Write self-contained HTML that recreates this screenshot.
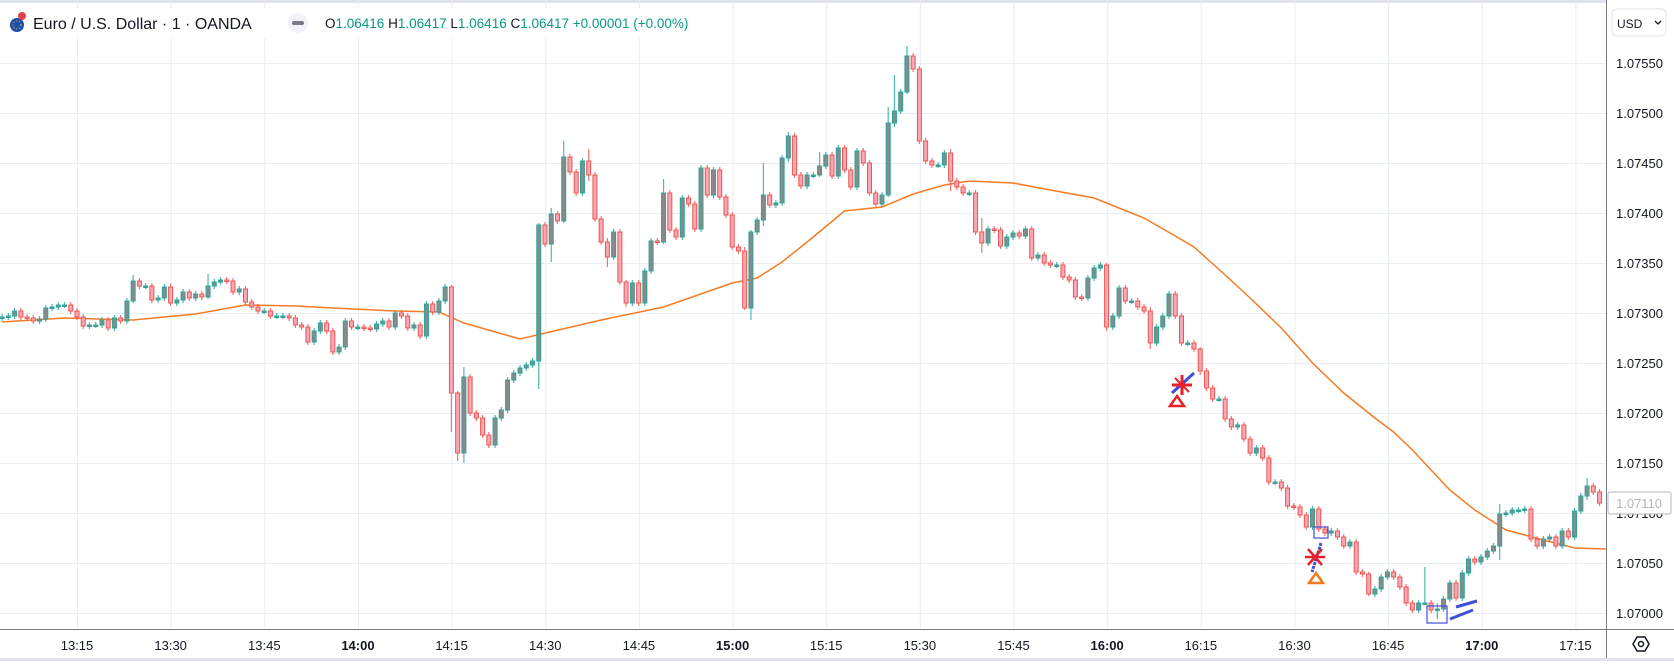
<!DOCTYPE html>
<html><head><meta charset="utf-8"><style>
html,body{margin:0;padding:0;background:#fff;}
body{width:1674px;height:661px;overflow:hidden;font-family:"Liberation Sans",sans-serif;}
svg text{font-family:"Liberation Sans",sans-serif;}
</style></head><body>
<svg id="chart" width="1674" height="661" viewBox="0 0 1674 661" xmlns="http://www.w3.org/2000/svg">
<rect x="0" y="0" width="1674" height="661" fill="#ffffff"/>
<rect x="0" y="0" width="1674" height="3" fill="#e0e3eb"/>
<g id="grid"></g>
<g id="ma"></g>
<g id="candles"></g>
<g id="drawings">
  <g>
    <line x1="1172" y1="393" x2="1194" y2="373" stroke="#3f4fd6" stroke-width="3"/>
    <line x1="1172" y1="385" x2="1192" y2="385" stroke="#e8202a" stroke-width="3"/>
    <line x1="1182" y1="375" x2="1182" y2="395" stroke="#e8202a" stroke-width="3"/>
    <line x1="1175" y1="378" x2="1189" y2="392" stroke="#e8202a" stroke-width="2"/>
    <polygon points="1177,396 1184,406 1170,406" fill="none" stroke="#e8202a" stroke-width="2.5"/>
  </g>
  <g>
    <rect x="1314" y="527" width="14" height="11" fill="none" stroke="#3f4fd6" stroke-width="1.2"/>
    <line x1="1321" y1="543" x2="1312" y2="572" stroke="#3f4fd6" stroke-width="3" stroke-dasharray="3,1"/>
    <line x1="1305" y1="557" x2="1325" y2="557" stroke="#e8202a" stroke-width="2.5"/>
    <line x1="1308" y1="549" x2="1322" y2="565" stroke="#e8202a" stroke-width="2.5"/>
    <line x1="1322" y1="549" x2="1308" y2="565" stroke="#e8202a" stroke-width="2.5"/>
    <polygon points="1316,573 1323,583 1309,583" fill="none" stroke="#f47a20" stroke-width="2.5"/>
  </g>
  <g>
    <rect x="1427" y="606" width="20" height="17" fill="none" stroke="#3f4fd6" stroke-width="1.2"/>
    <line x1="1456" y1="607" x2="1477" y2="601" stroke="#3f4fd6" stroke-width="3"/>
    <line x1="1450" y1="619" x2="1473" y2="610" stroke="#3f4fd6" stroke-width="3"/>
  </g>
</g>
<!-- axes -->
<rect x="1606" y="0" width="68" height="661" fill="#ffffff"/>
<line x1="1606.5" y1="0" x2="1606.5" y2="661" stroke="#787b86" stroke-width="1"/>
<rect x="0" y="630" width="1606" height="31" fill="#ffffff"/>
<line x1="0" y1="629.5" x2="1674" y2="629.5" stroke="#787b86" stroke-width="1"/>
<rect x="0" y="658" width="1674" height="3" fill="#e0e3eb"/>
<g id="yaxis"></g>
<g id="xaxis"></g>
<g>
  <rect x="1608" y="492" width="63" height="22" fill="#fff" stroke="#b2b5be" rx="2"/>
  <text x="1616" y="508" font-size="13" fill="#b2b5be">1.07110</text>
</g>
<g>
  <rect x="1612" y="9" width="54" height="27" rx="5" fill="#fff" stroke="#e0e3eb"/>
  <text x="1617" y="28" font-size="12" fill="#131722">USD</text>
  <path d="M1655 21 l3 3 l3 -3" fill="none" stroke="#131722" stroke-width="1.3"/>
</g>
<g>
  <polygon points="1633,644 1637,637 1645,637 1649,644 1645,651 1637,651" fill="none" stroke="#131722" stroke-width="1.5"/>
  <circle cx="1641" cy="644" r="2.5" fill="none" stroke="#131722" stroke-width="1.5"/>
</g>
<!-- header -->
<g>
  <rect x="6" y="8" width="700" height="30" fill="#ffffff" opacity="0.85"/>
  <g>
    <circle cx="17" cy="25" r="7" fill="#1d4fa8"/>
    <circle cx="22" cy="16" r="4" fill="#e04050"/>
    <circle cx="17" cy="25" r="4" fill="none" stroke="#f6d12e" stroke-width="1" stroke-dasharray="1,2"/>
  </g>
  <text x="33" y="29" font-size="16" fill="#131722">Euro / U.S. Dollar · 1 · OANDA</text>
  <g>
    <circle cx="298" cy="23" r="10" fill="#f0f3fa"/>
    <rect x="292" y="21" width="12" height="4" rx="2" fill="#787b86"/>
  </g>
  <text x="325" y="28" font-size="13.5" fill="#089981"><tspan fill="#131722">O</tspan>1.06416 <tspan fill="#131722">H</tspan>1.06417 <tspan fill="#131722">L</tspan>1.06416 <tspan fill="#131722">C</tspan>1.06417 +0.00001 (+0.00%)</text>
</g>
</svg>
<script>
// price values in units of 0.00001 above 1.07000
const closes = [
296,297,302,296,295,292,294,305,306,308,
308,302,296,287,288,288,293,285,295,292,
312,332,327,327,313,315,326,310,313,321,
315,319,316,327,331,333,332,321,324,311,
306,302,302,297,297,297,295,288,286,271,
282,290,282,261,266,292,286,286,285,284,
289,292,286,300,297,285,288,277,309,301,
312,326,220,160,236,200,195,178,168,195,
203,233,240,245,248,252,388,369,399,392,
456,441,420,452,438,394,371,356,381,331,
310,330,310,342,372,371,420,383,376,415,
409,384,445,418,443,416,398,366,362,305,
381,393,418,408,410,455,477,438,427,438,
438,447,458,437,465,443,426,462,450,420,
409,418,490,502,521,557,544,472,452,448,
448,460,432,426,420,420,381,370,384,383,
367,376,380,377,384,355,358,350,348,348,
336,333,316,315,335,345,348,286,297,325,
312,312,306,302,270,286,297,319,297,270,
270,264,242,225,214,214,194,186,188,174,
160,165,155,131,131,125,107,106,98,86,
104,84,80,82,76,67,71,41,39,19,
24,36,41,36,26,10,3,10,10,3,
4,14,30,15,40,54,51,56,62,67,
99,100,103,103,104,74,67,74,76,67,
82,76,102,117,127,121,110];
const firstOpen = 295;
const wickIdx = [21,33,72,73,74,86,88,90,94,97,100,106,119,120,122,126,131,142,143,145,152,157,177,184,192,219,228,230,240,254];
const wickUp  = [6,12,2,2,10,2,6,16,12,4,2,14,4,2,32,4,14,16,36,10,4,14,2,4,2,2,36,6,10,8];
const wickDn  = [2,2,39,8,10,28,18,2,6,10,4,2,2,12,6,4,2,2,4,2,10,10,4,6,4,2,2,9,14,4];
const maIdx = [0,10,21,31,39,47,53,63,70,74,83,96,106,117,121,125,130,135,141,146,151,155,162,168,175,183,188,191,196,200,205,210,215,220,223,226,232,236,241,247,252,257];
const maVal = [291,295,293,299,308,307,305,302,301,290,274,293,306,330,335,351,376,402,406,419,428,432,430,423,415,395,377,366,338,315,285,250,220,195,181,163,123,103,83,73,65,64];
const priceTicks = [0,50,100,150,200,250,300,350,400,450,500,550];
const timeLabels = ["13:15","13:30","13:45","14:00","14:15","14:30","14:45","15:00","15:15","15:30","15:45","16:00","16:15","16:30","16:45","17:00","17:15"];
const boldLabels = ["14:00","15:00","16:00","17:00"];

const NS = "http://www.w3.org/2000/svg";
const yOf = v => 613 - v;
const xOf = i => 1481 + 6.24 * (i - 237);
const xTime = k => 77 + 93.65 * k;
function mk(tag, attrs, parent){ const e=document.createElementNS(NS,tag); for(const k in attrs) e.setAttribute(k,attrs[k]); parent.appendChild(e); return e; }

const grid = document.getElementById('grid');
priceTicks.forEach(v=>{
  const l = mk('line',{x1:0,x2:1606,y1:yOf(v)+0.5,y2:yOf(v)+0.5,stroke:'#e9eef2','stroke-width':1},grid);
  
  
});
timeLabels.forEach((t,k)=>{
  const l = mk('line',{x1:xTime(k)+0.5,x2:xTime(k)+0.5,y1:0,y2:629,stroke:'#e9eef2','stroke-width':1},grid);
  
  
});

const ya = document.getElementById('yaxis');
priceTicks.forEach(v=>{
  const t = mk('text',{x:1616,y:yOf(v)+5,'font-size':13,fill:'#131722'},ya);
  t.textContent = (1.07 + v/100000).toFixed(5);
  
  
});
const xa = document.getElementById('xaxis');
timeLabels.forEach((s,k)=>{
  const t = mk('text',{x:xTime(k),y:650,'font-size':13,fill:'#131722','text-anchor':'middle','font-weight':boldLabels.includes(s)?'bold':'normal'},xa);
  t.textContent = s;
  
  
});

const ma = document.getElementById('ma');
const pl = mk('polyline',{points:maIdx.map((i,k)=>xOf(i).toFixed(1)+','+yOf(maVal[k])).join(' '),fill:'none',stroke:'#f57c24','stroke-width':1.5},ma);



const cg = document.getElementById('candles');
closes.forEach((c,i)=>{
  const o = i===0 ? firstOpen : closes[i-1];
  const up = c >= o;
  const w = wickIdx.indexOf(i);
  const hi = Math.max(o,c) + (w>=0 ? wickUp[w] : 3);
  const lo = Math.min(o,c) - (w>=0 ? wickDn[w] : 3);
  const x = xOf(i);
  const col = up ? '#26a69a' : '#ef5350';
  const g = mk('g',{},cg);
  
  
  mk('line',{x1:x,x2:x,y1:yOf(hi),y2:yOf(lo),stroke:col,'stroke-width':1.2,opacity:0.8},g);
  const top = yOf(Math.max(o,c)), h = Math.max(1.5, Math.abs(c-o));
  mk('rect',{x:x-2,y:top,width:4,height:h,fill:up?'#8a8a8a':'#f7a8b6',stroke:col,'stroke-width':1},g);
});
</script>
</body></html>
